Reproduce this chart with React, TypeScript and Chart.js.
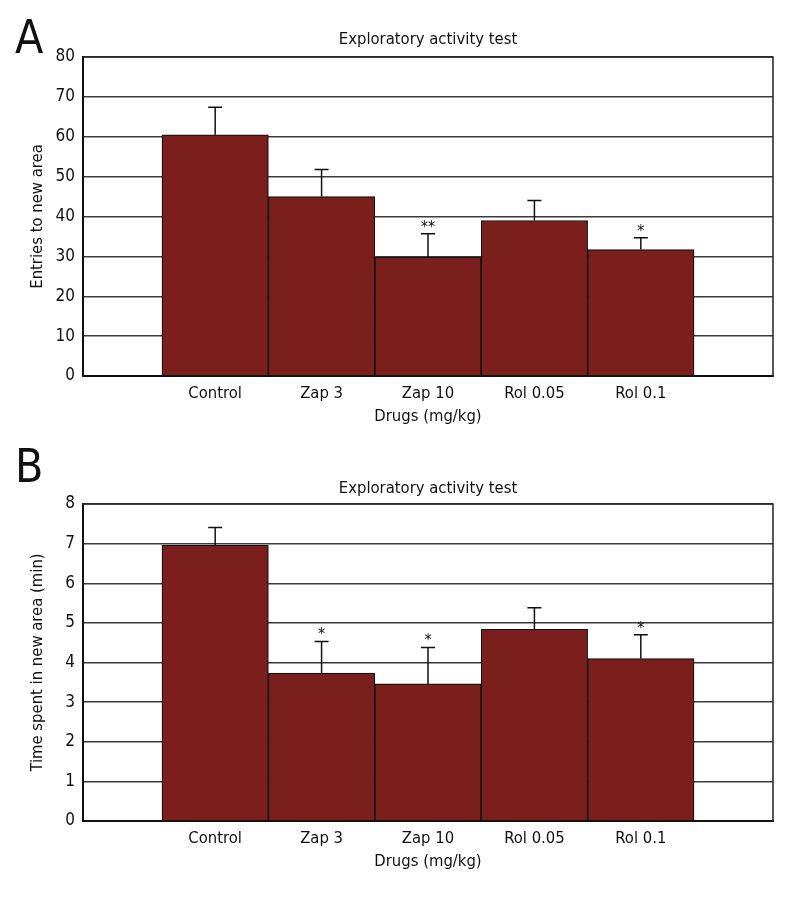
import React, { useEffect, useRef } from 'react';
import { Chart, registerables } from 'chart.js';

Chart.register(...registerables);

// ---- Data ----
const categories = ['Control', 'Zap 3', 'Zap 10', 'Rol 0.05', 'Rol 0.1'];

const entriesMeans = [60.5, 45.0, 29.8, 39.0, 31.7];
const entriesErrorTops = [67.4, 51.8, 35.7, 44.0, 34.7];
const entriesStars = ['', '', '**', '', '*'];
const entriesYTicks = [0, 10, 20, 30, 40, 50, 60, 70, 80];

const timeMeans = [6.96, 3.73, 3.46, 4.84, 4.1];
const timeErrorTops = [7.41, 4.53, 4.38, 5.38, 4.7];
const timeStars = ['', '*', '*', '', '*'];
const timeYTicks = [0, 1, 2, 3, 4, 5, 6, 7, 8];

const chartTitle = 'Exploratory activity test';
const xAxisTitle = 'Drugs (mg/kg)';

// ---- Styles ----
const FONT = "'Liberation Sans Narrow', 'DejaVu Sans Condensed', 'Arial Narrow', sans-serif";
const TEXT = '#111111';
const BAR = '#7a1f1c';
const GRID = '#3a3a3a';

type PanelProps = {
  top: number;
  height: number;
  letter: string;
  letterBaseline: number;
  titlePadTop: number;
  titlePadBottom: number;
  yTitle: string;
  means: number[];
  errTops: number[];
  stars: string[];
  yTicks: number[];
};

function Panel(props: PanelProps) {
  const ref = useRef<HTMLCanvasElement>(null);
  useEffect(() => {
    const canvas = ref.current;
    if (!canvas) return;
    const { means, errTops, stars, yTicks } = props;
    const font = { family: FONT, size: 16.5 };

    const decor = {
      id: 'decor',
      afterDatasetsDraw(chart: any) {
        const ctx = chart.ctx;
        const xs = chart.scales.x;
        const ys = chart.scales.y;
        ctx.save();
        ctx.strokeStyle = '#111';
        ctx.lineWidth = 1.5;
        means.forEach((v, i) => {
          const x = xs.getPixelForValue(i);
          const y0 = ys.getPixelForValue(v);
          const y1 = ys.getPixelForValue(errTops[i]);
          ctx.beginPath();
          ctx.moveTo(x, y0);
          ctx.lineTo(x, y1);
          ctx.moveTo(x - 7, y1);
          ctx.lineTo(x + 7, y1);
          ctx.stroke();
          if (stars[i]) {
            ctx.fillStyle = TEXT;
            ctx.font = `16px ${FONT}`;
            ctx.textAlign = 'center';
            ctx.textBaseline = 'alphabetic';
            ctx.fillText(stars[i], x, y1 - 2);
          }
        });
        ctx.restore();
      },
      afterDraw(chart: any) {
        const ctx = chart.ctx;
        const a = chart.chartArea;
        ctx.save();
        ctx.strokeStyle = '#222';
        ctx.lineWidth = 1.5;
        ctx.beginPath();
        ctx.moveTo(a.left, a.top);
        ctx.lineTo(a.right, a.top);
        ctx.lineTo(a.right, a.bottom);
        ctx.stroke();
        ctx.fillStyle = TEXT;
        ctx.font = `46px ${FONT}`;
        ctx.textAlign = 'left';
        ctx.textBaseline = 'alphabetic';
        ctx.fillText(props.letter, 15, props.letterBaseline);
        ctx.restore();
      },
    };

    const chart = new Chart(canvas, {
      type: 'bar',
      data: {
        datasets: [
          {
            data: means.map((v, i) => ({ x: i, y: v })),
            backgroundColor: BAR,
            borderColor: '#111',
            borderWidth: 1.2,
            barPercentage: 1,
            categoryPercentage: 1,
          } as any,
        ],
      },
      options: {
        responsive: false,
        animation: false,
        datasets: { bar: { barPercentage: 1, categoryPercentage: 1 } },
        layout: { padding: { left: 0, right: 27, top: 0, bottom: 0 } },
        plugins: {
          legend: { display: false },
          tooltip: { enabled: false },
          title: {
            display: true,
            text: chartTitle,
            fullSize: false,
            color: TEXT,
            font: { family: FONT, size: 16.5, weight: 'normal' },
            padding: { top: props.titlePadTop, bottom: props.titlePadBottom },
          },
        },
        scales: {
          x: {
            type: 'linear',
            offset: false,
            min: -1.242,
            max: 5.242,
            grid: { display: false, offset: false },
            border: { display: true, color: '#111', width: 2 },
            afterBuildTicks: (s: any) => {
              s.ticks = categories.map((_, i) => ({ value: i }));
            },
            ticks: {
              callback: (v: any) => categories[v as number] ?? '',
              font,
              color: TEXT,
              padding: 0,
              autoSkip: false,
              maxRotation: 0,
            },
            title: {
              display: true,
              text: xAxisTitle,
              font,
              color: TEXT,
              padding: { top: 0, bottom: 13 },
            },
            afterFit: (s: any) => {
              s.height = 64;
            },
          },
          y: {
            min: yTicks[0],
            max: yTicks[yTicks.length - 1],
            afterBuildTicks: (s: any) => {
              s.ticks = yTicks.map((v) => ({ value: v }));
            },
            grid: { color: GRID, lineWidth: 1.5, drawTicks: false },
            border: { display: true, color: '#111', width: 2 },
            ticks: { font: { family: FONT, size: 17 }, color: TEXT, padding: 8 },
            title: {
              display: true,
              text: props.yTitle,
              font,
              color: TEXT,
              padding: { top: 28, bottom: 0 },
            },
            afterFit: (s: any) => {
              s.width = 83;
            },
          },
        },
      } as any,
      plugins: [decor],
    });
    return () => chart.destroy();
  }, []);
  return (
    <canvas
      ref={ref}
      width={800}
      height={props.height}
      style={{ position: 'absolute', left: 0, top: props.top, width: 800, height: props.height }}
    />
  );
}

export default function App() {
  return (
    <div style={{ position: 'absolute', left: 0, top: 0, width: 800, height: 920, background: '#fff' }}>
      <Panel
        top={0}
        height={440}
        letter="A"
        letterBaseline={53}
        titlePadTop={30}
        titlePadBottom={7.2}
        yTitle="Entries to new area"
        means={entriesMeans}
        errTops={entriesErrorTops}
        stars={entriesStars}
        yTicks={entriesYTicks}
      />
      <Panel
        top={440}
        height={445}
        letter="B"
        letterBaseline={42}
        titlePadTop={38.8}
        titlePadBottom={5.4}
        yTitle="Time spent in new area (min)"
        means={timeMeans}
        errTops={timeErrorTops}
        stars={timeStars}
        yTicks={timeYTicks}
      />
    </div>
  );
}
